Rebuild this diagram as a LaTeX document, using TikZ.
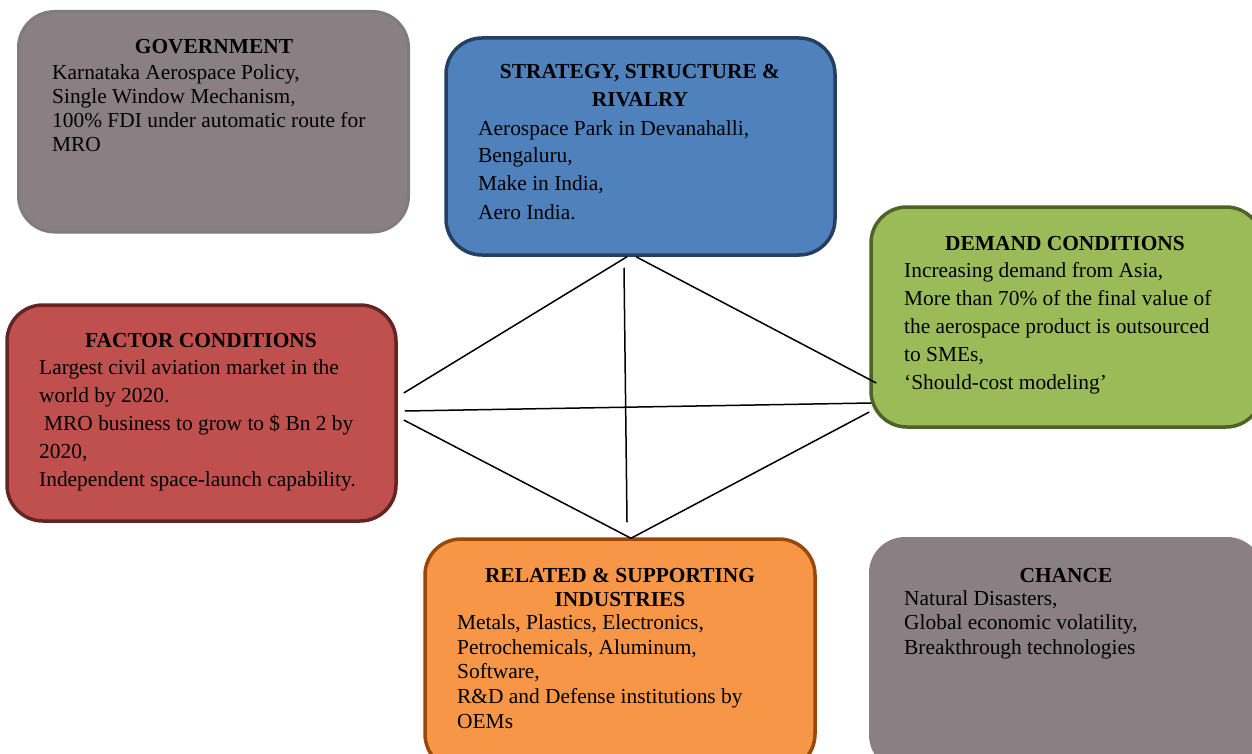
\documentclass[tikz,border=0pt]{standalone}
\usepackage{fontspec}
\setmainfont{Liberation Serif}
\definecolor{govfill}{RGB}{138,128,132}
\definecolor{govdraw}{RGB}{125,125,125}
\definecolor{strfill}{RGB}{79,129,189}
\definecolor{strdraw}{RGB}{36,63,96}
\definecolor{demfill}{RGB}{155,187,89}
\definecolor{demdraw}{RGB}{79,98,40}
\definecolor{facfill}{RGB}{192,80,77}
\definecolor{facdraw}{RGB}{99,37,35}
\definecolor{relfill}{RGB}{247,150,70}
\definecolor{reldraw}{RGB}{152,72,7}
\begin{document}
\begin{tikzpicture}[x=1pt,y=-1pt,
  box/.style={rectangle, rounded corners=36pt, inner sep=0pt, line width=3.5pt},
  txt/.style={anchor=base west, inner sep=0pt, font=\fontsize{21.4}{24}\selectfont},
  ttl/.style={anchor=base, inner sep=0pt, font=\fontsize{21.4}{24}\selectfont\bfseries},
  link/.style={draw=black, line width=1.5pt}]
\useasboundingbox (0,0) rectangle (1252,754);
\clip (0,0) rectangle (1252,754);
\fill[white] (0,0) rectangle (1252,754);
% boxes
\node[box, fill=govfill, draw=govdraw, line width=3pt, minimum width=390pt, minimum height=220.5pt] (gov) at (213.5,121.75) {};
\node[box, fill=strfill, draw=strdraw, minimum width=389pt, minimum height=217pt] (str) at (640.5,146.5) {};
\node[box, fill=demfill, draw=demdraw, minimum width=391pt, minimum height=220pt] (dem) at (1066.5,317) {};
\node[box, fill=facfill, draw=facdraw, minimum width=389pt, minimum height=216pt] (fac) at (201.5,413) {};
\node[box, fill=relfill, draw=reldraw, minimum width=390pt, minimum height=231pt] (rel) at (620,654.5) {};
\node[box, fill=govfill, draw=none, minimum width=394pt, minimum height=234pt] (cha) at (1066,654) {};
% connectors
\draw[link] ([shift={(6,-20)}]fac.east) -- ([shift={(-13.5,0)}]str.south);
\draw[link] ([shift={(-4.5,0)}]str.south) -- ([shift={(7,66)}]dem.west);
\draw[link] ([shift={(-16.5,11)}]str.south) -- ([shift={(7,-15)}]rel.north);
\draw[link] ([shift={(7,-2)}]fac.east) -- ([shift={(2,86)}]dem.west);
\draw[link] ([shift={(6,7)}]fac.east) -- ([shift={(11,1)}]rel.north);
\draw[link] ([shift={(11,1)}]rel.north) -- ([shift={(0,95)}]dem.west);
% government
\node[ttl] (govt) at (214,54) {GOVERNMENT};
\node[txt] (gov1) at (52,80) {Karnataka Aerospace Policy,};
\node[txt] (gov2) at (52,104) {Single Window Mechanism,};
\node[txt] (gov3) at (52,128) {100\% FDI under automatic route for};
\node[txt] (gov4) at (52,152) {MRO};
% strategy
\node[ttl] (strt1) at (640,79) {STRATEGY, STRUCTURE \&};
\node[ttl] (strt2) at (640,107) {RIVALRY};
\node[txt] (str1) at (478,136) {Aerospace Park in Devanahalli,};
\node[txt] (str2) at (478,163) {Bengaluru,};
\node[txt] (str3) at (478,191) {Make in India,};
\node[txt] (str4) at (478,219) {Aero India.};
% demand
\node[ttl] (demt) at (1065,250) {DEMAND CONDITIONS};
\node[txt] (dem1) at (904,277) {Increasing demand from Asia,};
\node[txt] (dem2) at (904,305) {More than 70\% of the final value of};
\node[txt] (dem3) at (904,333) {the aerospace product is outsourced};
\node[txt] (dem4) at (904,361) {to SMEs,};
\node[txt] (dem5) at (904,389) {‘Should-cost modeling’};
% factor
\node[ttl] (fact) at (201,347) {FACTOR CONDITIONS};
\node[txt] (fac1) at (39,374) {Largest civil aviation market in the};
\node[txt] (fac2) at (39,402) {world by 2020.};
\node[txt] (fac3) at (44,430) {MRO business to grow to \$ Bn 2 by};
\node[txt] (fac4) at (39,458) {2020,};
\node[txt] (fac5) at (39,486) {Independent space-launch capability.};
% related
\node[ttl] (relt1) at (620,582) {RELATED \& SUPPORTING};
\node[ttl] (relt2) at (620,606) {INDUSTRIES};
\node[txt] (rel1) at (457,629) {Metals, Plastics, Electronics,};
\node[txt] (rel2) at (457,654) {Petrochemicals, Aluminum,};
\node[txt] (rel3) at (457,678) {Software,};
\node[txt] (rel4) at (457,703) {R\&D and Defense institutions by};
\node[txt] (rel5) at (457,728) {OEMs};
% chance
\node[ttl] (chat) at (1066,582) {CHANCE};
\node[txt] (cha1) at (904,605) {Natural Disasters,};
\node[txt] (cha2) at (904,629) {Global economic volatility,};
\node[txt] (cha3) at (904,654) {Breakthrough technologies};
\end{tikzpicture}
\end{document}
